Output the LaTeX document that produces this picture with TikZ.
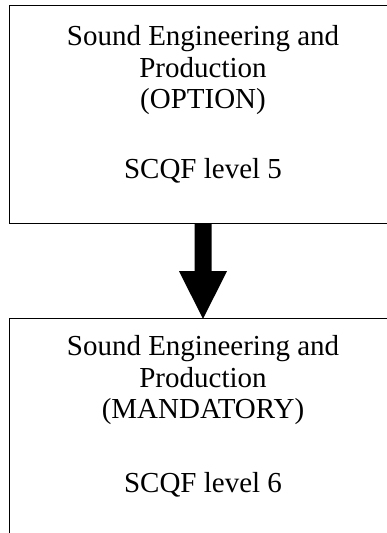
\documentclass[tikz,border=0pt]{standalone}
\usepackage{fontspec}
\setmainfont{Liberation Serif}
\usetikzlibrary{calc}
\begin{document}
\begin{tikzpicture}[x=1pt,y=-1pt,
  boxline/.style={line width=1.3pt,draw=black},
  label/.style={inner sep=0pt,anchor=base,font=\fontsize{29}{31.5}\selectfont},
  frame/.style={inner sep=0pt,minimum width=386pt,draw=none}]
\useasboundingbox (0,0) rectangle (387,533);
\clip (0,0) rectangle (387,533);
% boxes (as named nodes, drawn sides visible)
\node[frame,minimum height=217pt] (top) at (203,114.5) {};
\node[frame,minimum height=240pt] (bot) at (203,439) {};
\draw[boxline] (top.north east) -- (top.north west) -- (top.south west) -- (top.south east);
\draw[boxline] (bot.south west) -- (bot.north west) -- (bot.north east);
% texts
\node[label] (t1) at (203,45) {Sound Engineering and};
\node[label] (t2) at (203,77) {Production};
\node[label] (t3) at (203,108) {(OPTION)};
\node[label] (t4) at (203,178) {SCQF level 5};
\node[label] (b1) at (203,355) {Sound Engineering and};
\node[label] (b2) at (203,387) {Production};
\node[label] (b3) at (203,418) {(MANDATORY)};
\node[label] (b4) at (203,492) {SCQF level 6};
% block arrow
\fill[black] ($(top.south)+(-8.5pt,0)$) -- ($(top.south)+(8.5pt,0)$)
  -- ($(top.south)+(8.5pt,-48pt)$) -- ($(top.south)+(24pt,-48pt)$)
  -- (bot.north) -- ($(top.south)+(-24pt,-48pt)$)
  -- ($(top.south)+(-8.5pt,-48pt)$) -- cycle;
\end{tikzpicture}
\end{document}
